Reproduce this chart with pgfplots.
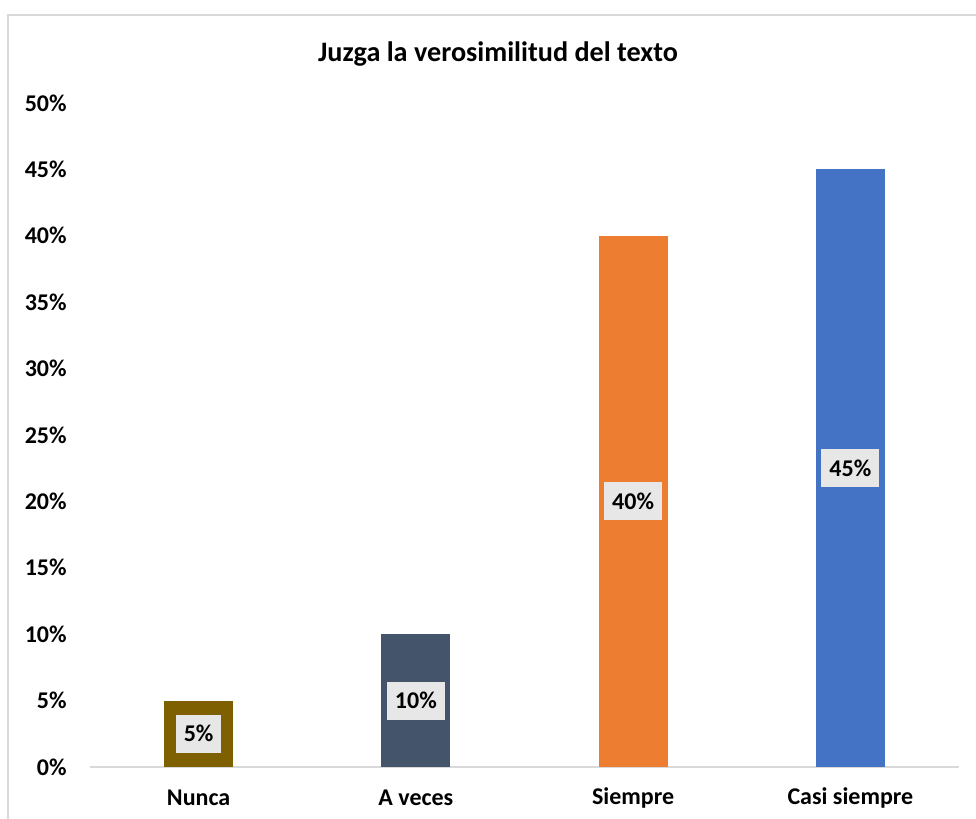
\documentclass[border=0pt]{standalone}
\usepackage{pgfplots}
\pgfplotsset{compat=1.18}
\usepackage{pgfplotstable}
\usepackage{fontspec}
\setmainfont{Carlito}
\definecolor{cNunca}{HTML}{7F6000}
\definecolor{cAveces}{HTML}{44546A}
\definecolor{cSiempre}{HTML}{ED7D31}
\definecolor{cCasi}{HTML}{4472C4}
\definecolor{borderc}{HTML}{D9D9D9}
\definecolor{labelbg}{HTML}{E7E7E7}
\pgfplotstableread{
x v
0 5
1 10
2 40
3 45
}\datatable
\begin{document}
\begin{tikzpicture}[x=1pt,y=1pt]
\path[use as bounding box] (0,0) rectangle (488,409.5);
\begin{scope}
\clip (0,0) rectangle (488,409.5);
\draw[draw=borderc, line width=1pt] (4,-20) rectangle (494,402);
\end{scope}
\node[font=\fontsize{14.1}{16}\selectfont\bfseries] at (249,382.5) {Juzga la verosimilitud del texto};
\begin{axis}[
  at={(45pt,26pt)}, anchor=south west,
  scale only axis, width=434.5pt, height=332pt,
  xmin=-0.5, xmax=3.5, ymin=0, ymax=50,
  axis lines*=left, separate axis lines,
  x axis line style={draw=borderc, line width=1pt, -},
  y axis line style={draw=none},
  major tick length=0pt,
  xtick={0,1,2,3},
  xticklabels={Nunca,A veces,Siempre,Casi siempre},
  ytick={0,5,...,50},
  yticklabel={\pgfmathprintnumber{\tick}\%},
  /pgf/number format/assume math mode=true,
  tick label style={font=\fontsize{12}{14}\selectfont\bfseries, text=black},
  yticklabel style={anchor=east, inner sep=0pt, xshift=-11.5pt},
  xticklabel style={anchor=center, inner sep=0pt, yshift=-15.5pt},
  clip=false,
]
\addplot[ybar, bar width=34.5pt, bar shift=0pt, fill=cNunca, draw=none] coordinates {(0,5)};
\addplot[ybar, bar width=34.5pt, bar shift=0pt, fill=cAveces, draw=none] coordinates {(1,10)};
\addplot[ybar, bar width=34.5pt, bar shift=0pt, fill=cSiempre, draw=none] coordinates {(2,40)};
\addplot[ybar, bar width=34.5pt, bar shift=0pt, fill=cCasi, draw=none] coordinates {(3,45)};
\addplot[draw=none, mark=none, point meta=explicit,
  nodes near coords={\pgfmathprintnumber{\pgfplotspointmeta}\%},
  nodes near coords style={anchor=center, fill=labelbg, text=black,
    font=\fontsize{12}{14}\selectfont\bfseries, inner xsep=4pt,
    minimum height=19pt, /pgf/number format/assume math mode=true}]
  table[x=x, y expr=\thisrow{v}/2, meta=v] {\datatable};
\end{axis}
\end{tikzpicture}
\end{document}
